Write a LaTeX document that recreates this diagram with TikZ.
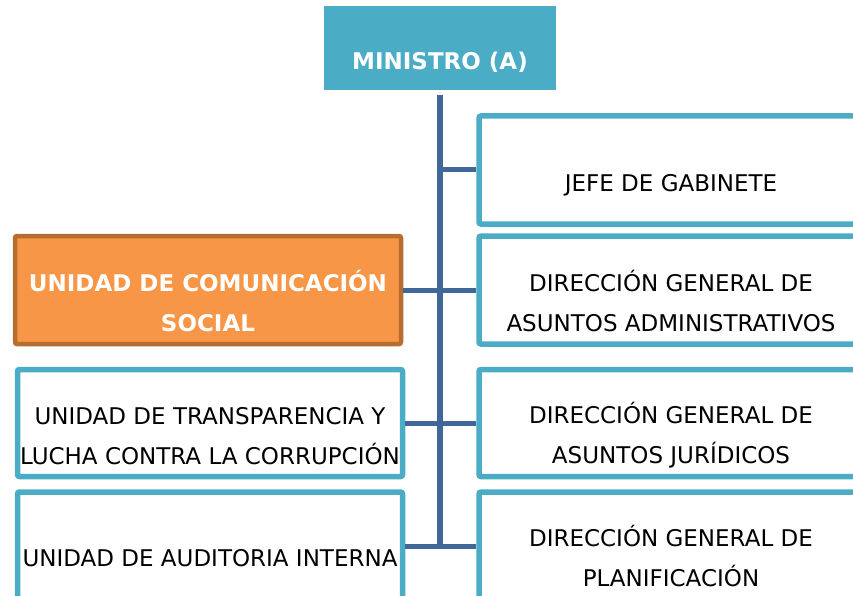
\documentclass[tikz,border=0pt]{standalone}
\usepackage{fontspec}
\setmainfont{DejaVu Sans}
\definecolor{boxblue}{HTML}{4BACC6}
\definecolor{linkblue}{HTML}{3F6898}
\definecolor{orgfill}{HTML}{F79646}
\definecolor{orgline}{HTML}{B66D31}
\begin{document}
\begin{tikzpicture}[x=1pt,y=-1pt,
  unit/.style={draw=boxblue,line width=5.5pt,fill=white,rounded corners=2pt,inner sep=0pt},
  orgunit/.style={draw=orgline,fill=orgfill,line width=4.5pt,rounded corners=2pt,inner sep=0pt},
  topunit/.style={fill=boxblue,inner sep=0pt},
  lbl/.style={font=\fontsize{23}{40}\selectfont,align=center,text height=16.8pt,text depth=0pt,inner sep=0pt},
  lblb/.style={lbl,font=\fontsize{23}{40}\selectfont\bfseries,text=white},
  link/.style={draw=linkblue,line width=5pt}]
\useasboundingbox (0,0) rectangle (853,596);
\clip (0,0) rectangle (853,596);

% boxes
\node[topunit,minimum width=232pt,minimum height=84pt] (min) at (440,48) {};
\node[unit,minimum width=384pt,minimum height=108pt] (jefe) at (671,170) {};
\node[unit,minimum width=384pt,minimum height=108pt] (adm) at (671,290) {};
\node[unit,minimum width=384pt,minimum height=107pt] (jur) at (671,423) {};
\node[unit,minimum width=384pt,minimum height=108pt] (plan) at (671,546) {};
\node[orgunit,minimum width=386pt,minimum height=108pt] (com) at (208,290) {};
\node[unit,minimum width=385pt,minimum height=107pt] (tra) at (210,423) {};
\node[unit,minimum width=385pt,minimum height=108pt] (aud) at (210,546) {};

% connectors
\coordinate (bot) at (440,548.5);
\draw[link,line width=6pt] ([yshift=-5pt]min.south) -- (bot);
\draw[link] (min.south |- jefe.west) -- (jefe.west);
\draw[link] (com.east) -- (adm.west);
\draw[link] (tra.east) -- (jur.west);
\draw[link] (aud.east) -- (plan.west);

% texts
\node[lblb] (tmin) at ([yshift=-13pt]min.center) {MINISTRO (A)};
\node[lbl] (tjefe) at ([yshift=-13pt]jefe.center) {JEFE DE GABINETE};
\node[lbl] (tadm) at ([yshift=-33pt]adm.center) {DIRECCIÓN GENERAL DE\\ASUNTOS ADMINISTRATIVOS};
\node[lbl] (tjur) at ([yshift=-32pt]jur.center) {DIRECCIÓN GENERAL DE\\ASUNTOS JURÍDICOS};
\node[lbl] (tplan) at ([yshift=-32pt]plan.center) {DIRECCIÓN GENERAL DE\\PLANIFICACIÓN};
\node[lblb] (tcom) at ([yshift=-33pt]com.center) {UNIDAD DE COMUNICACIÓN\\SOCIAL};
\node[lbl] (ttra) at ([yshift=-33pt]tra.center) {UNIDAD DE TRANSPARENCIA Y\\LUCHA CONTRA LA CORRUPCIÓN};
\node[lbl] (taud) at ([yshift=-12pt]aud.center) {UNIDAD DE AUDITORIA INTERNA};
\end{tikzpicture}
\end{document}
